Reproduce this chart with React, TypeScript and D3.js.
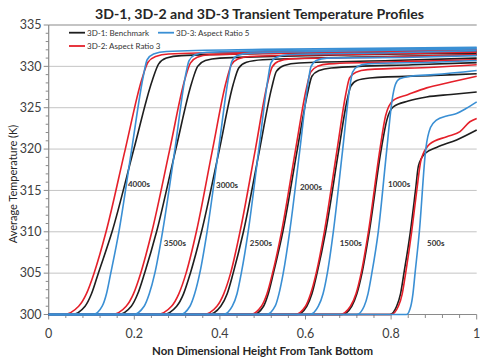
import * as d3 from "d3";

// Time labels and where they sit (x, temperature)
const times = ["500s", "1000s", "1500s", "2000s", "2500s", "3000s", "3500s", "4000s"];
const timeLabelPos = [
  [0.884, 308.6],
  [0.793, 315.8],
  [0.68, 308.6],
  [0.587, 315.4],
  [0.47, 308.6],
  [0.391, 315.6],
  [0.269, 308.6],
  [0.185, 315.8],
];

// 3D-1: Benchmark, one profile per time (height, temperature)
const benchmark = [
  [[0, 300], [0.797, 300], [0.813, 301], [0.822, 302.5], [0.83, 305], [0.845, 310], [0.857, 315], [0.864, 318], [0.88, 319.5], [0.906, 320.2], [0.953, 321.1], [1, 322.3]],
  [[0, 300], [0.685, 300], [0.708, 301], [0.72, 302.5], [0.732, 305], [0.749, 310], [0.777, 320], [0.79, 323.5], [0.805, 325.1], [0.84, 325.8], [0.883, 326.3], [0.94, 326.6], [1, 326.9]],
  [[0, 300], [0.58, 300], [0.603, 301], [0.615, 302.5], [0.627, 305], [0.647, 310], [0.678, 320], [0.696, 325.6], [0.706, 327.6], [0.72, 328.3], [0.75, 328.6], [0.9, 328.9], [1, 329.1]],
  [[0, 300], [0.478, 300], [0.502, 301], [0.513, 302.5], [0.525, 305], [0.547, 310], [0.581, 320], [0.605, 326.8], [0.615, 328.8], [0.632, 329.5], [0.66, 329.8], [0.85, 330.2], [1, 330.45]],
  [[0, 300], [0.373, 300], [0.402, 301], [0.417, 302.5], [0.431, 305], [0.455, 310], [0.493, 320], [0.521, 327.4], [0.532, 329.4], [0.55, 330.1], [0.585, 330.4], [0.8, 330.7], [1, 331.0]],
  [[0, 300], [0.267, 300], [0.299, 301], [0.315, 302.5], [0.331, 305], [0.357, 310], [0.399, 320], [0.431, 327.8], [0.444, 329.8], [0.462, 330.5], [0.5, 330.8], [0.7, 331.1], [1, 331.4]],
  [[0, 300], [0.162, 300], [0.193, 301], [0.208, 302.5], [0.224, 305], [0.252, 310], [0.297, 320], [0.334, 328], [0.348, 330], [0.366, 330.7], [0.4, 331], [0.6, 331.3], [1, 331.6]],
  [[0, 300], [0.054, 300], [0.085, 301], [0.1, 302.5], [0.116, 305], [0.148, 310], [0.199, 320], [0.242, 328.3], [0.257, 330.3], [0.275, 331.0], [0.31, 331.3], [0.5, 331.55], [1, 331.8]],
];

// 3D-2: Aspect Ratio 3
const aspect3 = [
  [[0, 300], [0.8, 300], [0.817, 301], [0.826, 302.5], [0.834, 305], [0.848, 310], [0.86, 315], [0.87, 318.7], [0.89, 320.6], [0.93, 321.5], [0.961, 322.1], [0.984, 323.3], [1, 323.7]],
  [[0, 300], [0.68, 300], [0.705, 301], [0.718, 302.5], [0.73, 305], [0.747, 310], [0.774, 320], [0.787, 324], [0.805, 325.9], [0.84, 326.6], [0.883, 327.4], [0.94, 328.1], [1, 328.8]],
  [[0, 300], [0.575, 300], [0.6, 301], [0.612, 302.5], [0.625, 305], [0.644, 310], [0.674, 320], [0.694, 326.6], [0.703, 328.6], [0.718, 329.3], [0.745, 329.6], [0.9, 329.9], [1, 330.2]],
  [[0, 300], [0.47, 300], [0.497, 301], [0.51, 302.5], [0.523, 305], [0.544, 310], [0.577, 320], [0.602, 327.3], [0.612, 329.3], [0.628, 330.0], [0.655, 330.3], [0.85, 330.6], [1, 330.8]],
  [[0, 300], [0.361, 300], [0.393, 301], [0.409, 302.5], [0.425, 305], [0.447, 310], [0.483, 320], [0.511, 327.9], [0.522, 329.9], [0.536, 330.6], [0.565, 330.9], [0.8, 331.15], [1, 331.4]],
  [[0, 300], [0.252, 300], [0.287, 301], [0.304, 302.5], [0.321, 305], [0.345, 310], [0.383, 320], [0.415, 328.2], [0.427, 330.2], [0.442, 330.9], [0.47, 331.2], [0.7, 331.45], [1, 331.7]],
  [[0, 300], [0.147, 300], [0.181, 301], [0.198, 302.5], [0.215, 305], [0.241, 310], [0.283, 320], [0.318, 328.4], [0.331, 330.4], [0.347, 331.1], [0.375, 331.4], [0.6, 331.65], [1, 331.9]],
  [[0, 300], [0.034, 300], [0.07, 301], [0.088, 302.5], [0.106, 305], [0.134, 310], [0.179, 320], [0.218, 328.5], [0.232, 330.5], [0.25, 331.2], [0.28, 331.5], [0.5, 331.75], [1, 332.0]],
];

// 3D-3: Aspect Ratio 5
const aspect5 = [
  [[0, 300], [0.836, 300], [0.846, 301], [0.851, 302.5], [0.856, 305], [0.866, 310], [0.881, 320], [0.892, 322.6], [0.906, 323.5], [0.93, 324.0], [0.953, 324.3], [0.975, 324.9], [1, 325.7]],
  [[0, 300], [0.72, 300], [0.737, 301], [0.746, 302.5], [0.755, 305], [0.77, 310], [0.79, 320], [0.802, 325.8], [0.81, 327.8], [0.82, 328.5], [0.845, 328.8], [0.9, 329.0], [1, 329.5]],
  [[0, 300], [0.61, 300], [0.63, 301], [0.641, 302.5], [0.651, 305], [0.665, 310], [0.687, 320], [0.703, 327.3], [0.71, 329.3], [0.722, 330], [0.745, 330.3], [0.9, 330.5], [1, 330.7]],
  [[0, 300], [0.509, 300], [0.529, 301], [0.538, 302.5], [0.548, 305], [0.563, 310], [0.587, 320], [0.606, 328], [0.613, 330], [0.625, 330.7], [0.65, 331], [0.85, 331.1], [1, 331.3]],
  [[0, 300], [0.408, 300], [0.429, 301], [0.44, 302.5], [0.45, 305], [0.466, 310], [0.491, 320], [0.512, 328.4], [0.519, 330.4], [0.532, 331.1], [0.56, 331.4], [0.8, 331.65], [1, 331.9]],
  [[0, 300], [0.307, 300], [0.33, 301], [0.341, 302.5], [0.353, 305], [0.37, 310], [0.397, 320], [0.42, 328.6], [0.428, 330.6], [0.441, 331.3], [0.47, 331.6], [0.7, 331.85], [1, 332.1]],
  [[0, 300], [0.197, 300], [0.223, 301], [0.235, 302.5], [0.248, 305], [0.266, 310], [0.295, 320], [0.319, 328.7], [0.328, 330.7], [0.342, 331.4], [0.37, 331.7], [0.6, 331.95], [1, 332.2]],
  [[0, 300], [0.104, 300], [0.125, 301], [0.135, 302.5], [0.145, 305], [0.164, 310], [0.194, 320], [0.221, 328.8], [0.23, 330.8], [0.245, 331.5], [0.275, 331.8], [0.5, 332.05], [1, 332.3]],
];

const xTicks = [0, 0.2, 0.4, 0.6, 0.8, 1];
const yTicks = [300, 305, 310, 315, 320, 325, 330, 335];

const width = 481;
const height = 360;
const font = "Lato, 'Open Sans', sans-serif";
const BLACK = "#1e1e1e";
const RED = "#e5202a";
const BLUE = "#3a8fd4";

export default function App() {
  const x = d3.scaleLinear().domain([0, 1]).range([48.7, 476.7]);
  const y = d3.scaleLinear().domain([300, 335]).range([314.5, 25]);

  const line = d3
    .line<number[]>()
    .x((d) => x(d[0]))
    .y((d) => y(d[1]))
    .curve(d3.curveMonotoneX);

  const minorY = d3.range(300, 336, 1);
  const minorX = d3.range(0, 1.0001, 0.04);

  const series = [
    { data: benchmark, color: BLACK },
    { data: aspect3, color: RED },
    { data: aspect5, color: BLUE },
  ];

  return (
    <svg
      width={width}
      height={height}
      style={{ position: "absolute", left: 0, top: 0, background: "#fff" }}
      fontFamily={font}
    >
      {/* gridlines */}
      {yTicks.slice(1, -1).map((t) => (
        <line key={t} x1={x(0)} x2={x(1)} y1={y(t)} y2={y(t)} stroke="#c4c4c4" strokeWidth={1} />
      ))}
      <line x1={x(0)} x2={x(1)} y1={y(335)} y2={y(335)} stroke="#8a8a8a" strokeWidth={1.2} />

      {/* y axis */}
      <line x1={x(0)} x2={x(0)} y1={y(300)} y2={y(335)} stroke="#8a8a8a" strokeWidth={1.2} />
      {minorY.map((t) => (
        <line key={t} x1={x(0) - (t % 5 === 0 ? 5 : 3)} x2={x(0)} y1={y(t)} y2={y(t)} stroke="#8a8a8a" />
      ))}
      {yTicks.map((t) => (
        <text key={t} x={41.5} y={y(t) + 4.2} textAnchor="end" fontSize={12.5} fill="#404040">
          {t}
        </text>
      ))}

      {/* x axis */}
      <line x1={x(0)} x2={x(1)} y1={y(300)} y2={y(300)} stroke="#8a8a8a" strokeWidth={1.2} />
      {minorX.map((t, i) => (
        <line key={i} x1={x(t)} x2={x(t)} y1={y(300)} y2={y(300) + (i % 5 === 0 ? 5 : 3.5)} stroke="#8a8a8a" />
      ))}
      {xTicks.map((t) => (
        <text key={t} x={x(t)} y={337.5} textAnchor="middle" fontSize={12.5} fill="#404040">
          {t}
        </text>
      ))}

      {/* profiles */}
      {series.map((s, si) => (
        <g key={si}>
          {s.data.map((d, i) => (
            <path key={i} d={line(d as number[][]) ?? ""} fill="none" stroke={s.color} strokeWidth={1.6} />
          ))}
        </g>
      ))}

      {/* time labels */}
      {times.map((t, i) => (
        <text
          key={t}
          x={x(timeLabelPos[i][0])}
          y={y(timeLabelPos[i][1]) + 3}
          fontSize={8}
          fontWeight="bold"
          fill="#333"
        >
          {t}
        </text>
      ))}

      {/* legend */}
      <line x1={69} x2={85} y1={32.7} y2={32.7} stroke={BLACK} strokeWidth={1.8} />
      <text x={87} y={35.5} fontSize={8} fill="#333">3D-1: Benchmark</text>
      <line x1={158} x2={174} y1={32.7} y2={32.7} stroke={BLUE} strokeWidth={1.8} />
      <text x={176} y={35.5} fontSize={8} fill="#333">3D-3: Aspect Ratio 5</text>
      <line x1={69} x2={85} y1={46} y2={46} stroke={RED} strokeWidth={1.8} />
      <text x={87} y={48.8} fontSize={8} fill="#333">3D-2: Aspect Ratio 3</text>

      {/* titles */}
      <text x={259.5} y={19} textAnchor="middle" fontSize={14} fontWeight="bold" fill="#262626" textLength={329} lengthAdjust="spacingAndGlyphs">
        3D-1, 3D-2 and 3D-3 Transient Temperature Profiles
      </text>
      <text x={262.5} y={354.5} textAnchor="middle" fontSize={10.5} fontWeight="bold" fill="#262626" textLength={221} lengthAdjust="spacingAndGlyphs">
        Non Dimensional Height From Tank Bottom
      </text>
      <text
        transform={`translate(16.5, ${184}) rotate(-90)`}
        textAnchor="middle"
        fontSize={11}
        fill="#262626"
      >
        Average Temperature (K)
      </text>
    </svg>
  );
}
